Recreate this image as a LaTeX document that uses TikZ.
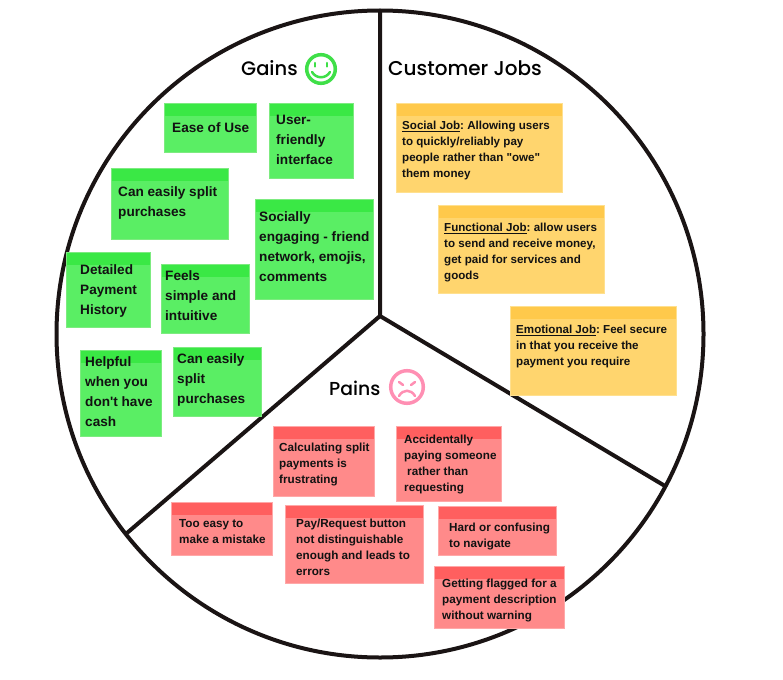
\documentclass[tikz,border=0pt]{standalone}
\usepackage{fontspec}
\setmainfont{Liberation Sans}
\newfontfamily\headfont{Poppins Medium}
\definecolor{linecol}{HTML}{1A1414}
\definecolor{greenfill}{HTML}{5AEE64}
\definecolor{greenhead}{HTML}{3AE845}
\definecolor{greenedge}{HTML}{7DEB80}
\definecolor{orangefill}{HTML}{FFD56E}
\definecolor{orangehead}{HTML}{FFC94B}
\definecolor{orangeedge}{HTML}{FFE08F}
\definecolor{redfill}{HTML}{FF8A8A}
\definecolor{redhead}{HTML}{FF5F5F}
\definecolor{rededge}{HTML}{FFA8A8}
\definecolor{pinkface}{HTML}{FF8FB3}
\definecolor{greenface}{HTML}{3FDF48}
\tikzset{
	note/.style={anchor=north west, inner sep=0pt, minimum width=#1-1pt, line width=1pt, xshift=-.4pt, yshift=.4pt},
	head/.style={draw=#1edge, fill=#1fill, path picture={\fill[#1head] (path picture bounding box.north west) rectangle ([yshift=-12.5pt]path picture bounding box.north east);}},
	notetext/.style={anchor=north west, inner sep=0pt, align=left, text=black!93, execute at begin node={\frenchspacing\rule{0pt}{11pt}}},
	bigtext/.style={notetext, yshift=-1pt, font=\bfseries\fontsize{13.6}{20}\selectfont},
	smalltext/.style={notetext, yshift=-3pt, font=\bfseries\fontsize{#1}{16}\selectfont},
	title/.style={anchor=base west, inner sep=0pt, font=\headfont\fontsize{#1}{21}\selectfont, text=black},
}
\begin{document}
\begin{tikzpicture}[x=1pt, y=-1pt, line cap=butt]
	\path[use as bounding box] (0,0) rectangle (783,679);
	\path (380,334) coordinate (C) (380,316) coordinate (O) (380,11) coordinate (T) (665,486) coordinate (R) (127,533) coordinate (L);
	\draw[linecol, line width=4pt] (C) circle (323.5pt);
	\draw[linecol, line width=4pt] (T)--(O)--(R) (O)--(L);
	\node[title=19.5] (gains) at (241,76) {Gains};
	\node[title=20] (jobs) at (388,76) {Customer Jobs};
	\node[title=18.8] (pains) at (329,395) {Pains};
	% faces
	\path (321,69) coordinate (S) (407,387) coordinate (F);
	\draw[greenface, line width=3.5pt] (S) circle (14.3pt);
	\draw[greenface, line width=2.5pt, line cap=round] ([shift={(-6,-6)}]S)--++(0,3.5) ([shift={(6,-6)}]S)--++(0,3.5);
	\draw[greenface, line width=2.5pt, line cap=round] ([shift={(-9,3)}]S) .. controls ([shift={(-5,10)}]S) and ([shift={(5,10)}]S) .. ([shift={(9,3)}]S);
	\draw[pinkface, line width=3.5pt] (F) circle (16.3pt);
	\draw[pinkface, line width=2.5pt, line cap=round] ([shift={(-8,-5)}]F)--([shift={(-4,-2)}]F) ([shift={(8,-5)}]F)--([shift={(4,-2)}]F);
	\draw[pinkface, line width=2.5pt, line cap=round] ([shift={(-8,9)}]F) .. controls ([shift={(-4,2)}]F) and ([shift={(4,2)}]F) .. ([shift={(8,9)}]F);
	% gains
	\foreach \n/\x/\y/\w/\h/\tx/\ty/\txt in {
		ease/164/103/93/50/172/131/{Ease of Use},
		user/269/103/85/76/276/125/{User-\\friendly\\interface},
		split/111/168/118/72/118/196/{Can easily split\\purchases},
		social/255/199/119/101/259/221/{Socially\\engaging - friend\\network, emojis,\\comments},
		history/66/252/85/76/80/274/{Detailed\\Payment\\History},
		feels/161/264/89/70/165/280/{Feels\\simple and\\intuitive},
		cash/80/350/82/87/85/366/{Helpful\\when you\\don\textquotesingle t have\\cash},
		splittwo/173/347/89/70/177/363/{Can easily\\split\\purchases}}{
		\node[note=\w pt, minimum height=\h pt-1pt, head=green] (\n) at (\x,\y) {};
		\node[bigtext] (\n txt) at (\tx,\ty-11) {\txt};
	}
	% customer jobs
	\foreach \n/\x/\y/\w/\h/\tx/\ty/\txt in {
		socialjob/396/103/167/90/402/129/{\underline{Social Job}: Allowing users\\to quickly/reliably pay\\people rather than \textquotedbl owe\textquotedbl\\them money},
		funcjob/438/205/167/89/444/231/{\underline{Functional Job}: allow users\\to send and receive money,\\get paid for services and\\goods},
		emojob/510/306/167/90/516/333/{\underline{Emotional Job}: Feel secure\\in that you receive the\\payment you require}}{
		\node[note=\w pt, minimum height=\h pt-1pt, head=orange] (\n) at (\x,\y) {};
		\node[smalltext=11.6] (\n txt) at (\tx,\ty-11) {\txt};
	}
	% pains
	\foreach \n/\x/\y/\w/\h/\tx/\ty/\txt in {
		calc/273/426/102/71/279/451/{Calculating split\\payments is\\frustrating},
		accident/396/426/106/76/404/443/{Accidentally\\paying someone\\\hspace*{3pt}rather than\\requesting},
		easy/171/502/102/54/179/527/{Too easy to\\make a mistake},
		button/285/505/139/79/296/527/{Pay/Request button\\not distinguishable\\enough and leads to\\errors},
		hard/438/506/119/50/449/531/{Hard or confusing\\to navigate},
		flagged/434/566/131/63/442/587/{Getting flagged for a\\payment description\\without warning}}{
		\node[note=\w pt, minimum height=\h pt-1pt, head=red] (\n) at (\x,\y) {};
		\node[smalltext=11.7] (\n txt) at (\tx,\ty-11) {\txt};
	}
\end{tikzpicture}
\end{document}
